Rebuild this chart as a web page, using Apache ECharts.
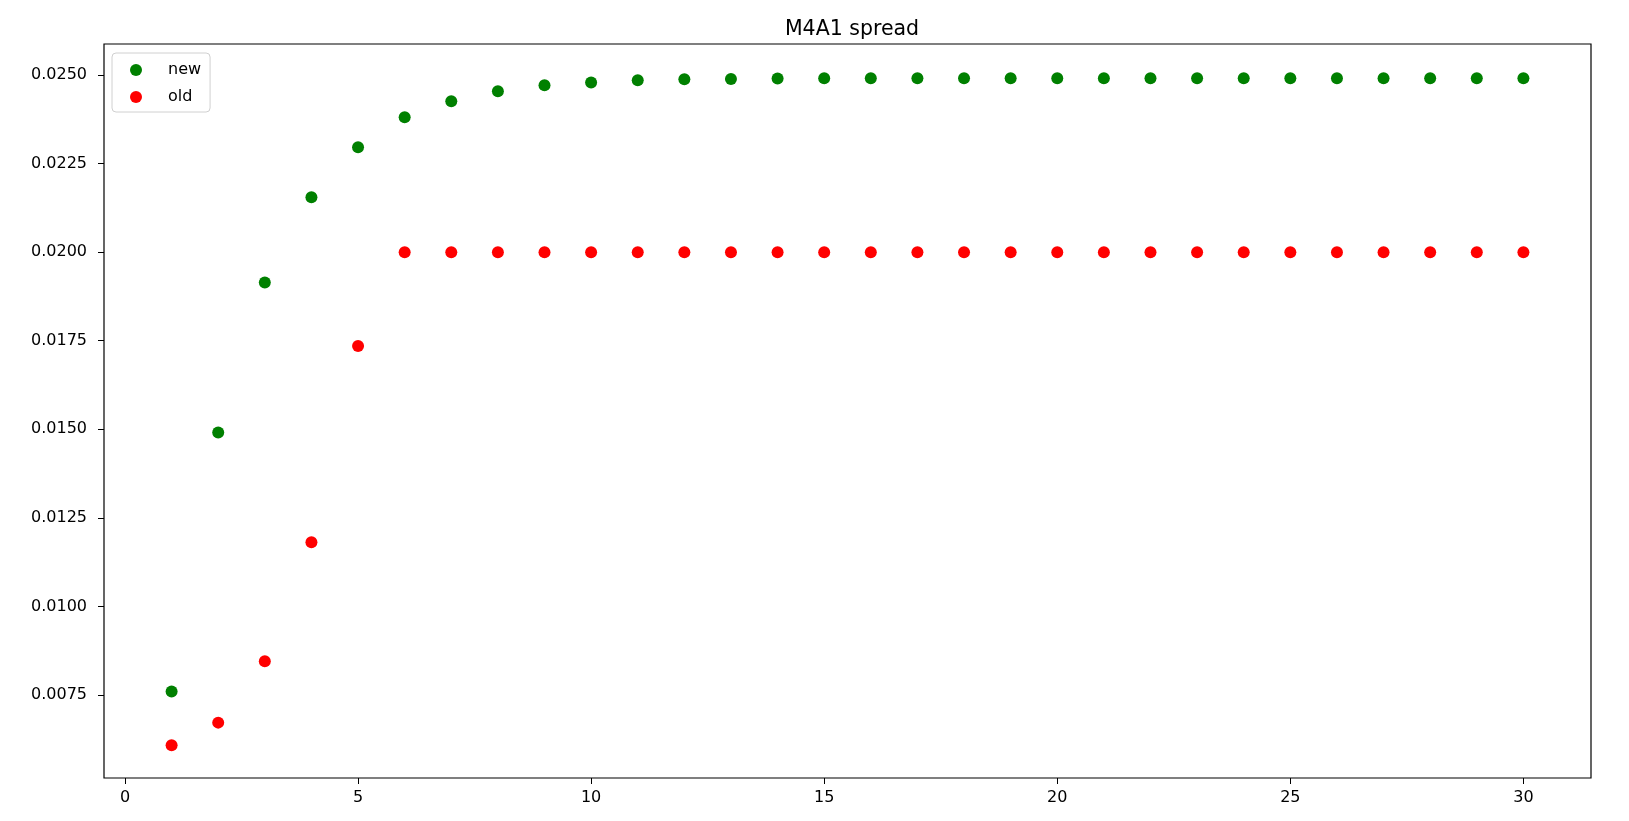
<!DOCTYPE html>
<html>
<head>
<meta charset="utf-8">
<script src="https://cdn.jsdelivr.net/npm/echarts@6/dist/echarts.min.js"></script>
<style>
html,body{margin:0;padding:0;background:#fff;}
#chart{width:1629px;height:821px;}
</style>
</head>
<body>
<div id="chart"></div>
<script>
const titleText = 'M4A1 spread';
const seriesNames = ['new', 'old'];
const xValues = [1,2,3,4,5,6,7,8,9,10,11,12,13,14,15,16,17,18,19,20,21,22,23,24,25,26,27,28,29,30];
const newValues = [0.00760,0.01491,0.01914,0.02155,0.02296,0.02381,0.02426,0.02454,0.02471,0.02479,0.02485,0.02488,0.02489,0.02490,0.02491,0.02491,0.02491,0.02491,0.02491,0.02491,0.02491,0.02491,0.02491,0.02491,0.02491,0.02491,0.02491,0.02491,0.02491,0.02491];
const oldValues = [0.00608,0.00672,0.00845,0.01181,0.01735,0.02000,0.02000,0.02000,0.02000,0.02000,0.02000,0.02000,0.02000,0.02000,0.02000,0.02000,0.02000,0.02000,0.02000,0.02000,0.02000,0.02000,0.02000,0.02000,0.02000,0.02000,0.02000,0.02000,0.02000,0.02000];
const xTicks = [0,5,10,15,20,25,30];
const yTicks = [0.0075,0.0100,0.0125,0.0150,0.0175,0.0200,0.0225,0.0250];
const xRange = [-0.45, 31.45];
const yRange = [0.005157, 0.025875];

const font = 'DejaVu Sans';
const chart = echarts.init(document.getElementById('chart'), null, {renderer:'canvas'});
chart.setOption({
  animation: false,
  backgroundColor: '#ffffff',
  title: {
    text: titleText, left: 847, top: 14, textAlign: 'center',
    textStyle: {fontFamily: font, fontSize: 20.5, fontWeight: 'normal', color: '#000'}
  },
  legend: {
    data: seriesNames, orient: 'vertical', left: 112, top: 53,
    icon: 'circle', itemWidth: 12, itemHeight: 12, itemGap: 11,
    padding: [9, 9, 7, 18],
    backgroundColor: '#fff', borderColor: '#d0d0d0', borderWidth: 1, borderRadius: 4,
    textStyle: {fontFamily: font, fontSize: 16, color: '#000', lineHeight: 16, padding: [0,0,0,21]}
  },
  grid: {left: 104, right: 38, top: 44, bottom: 43, show: true, borderColor: '#000', borderWidth: 1.2, backgroundColor: 'transparent'},
  xAxis: {
    type: 'value', min: xRange[0], max: xRange[1],
    axisLine: {show: false, onZero: false},
    splitLine: {show: false},
    axisTick: {show: true, inside: false, length: 6, customValues: xTicks, lineStyle: {color: '#000', width: 1}},
    axisLabel: {customValues: xTicks, margin: 12, fontFamily: font, fontSize: 16, color: '#000'}
  },
  yAxis: {
    type: 'value', min: yRange[0], max: yRange[1],
    axisLine: {show: false, onZero: false},
    splitLine: {show: false},
    axisTick: {show: true, inside: false, length: 6, customValues: yTicks, lineStyle: {color: '#000', width: 1}},
    axisLabel: {customValues: yTicks, margin: 17, fontFamily: font, fontSize: 16, color: '#000',
      formatter: v => v.toFixed(4)}
  },
  series: [
    {name: seriesNames[0], type: 'scatter', symbol: 'circle', symbolSize: 12,
     itemStyle: {color: '#008000', opacity: 1},
     data: xValues.map((x, i) => [x, newValues[i]])},
    {name: seriesNames[1], type: 'scatter', symbol: 'circle', symbolSize: 12,
     itemStyle: {color: '#ff0000', opacity: 1},
     data: xValues.map((x, i) => [x, oldValues[i]])}
  ]
});
</script>
</body>
</html>
